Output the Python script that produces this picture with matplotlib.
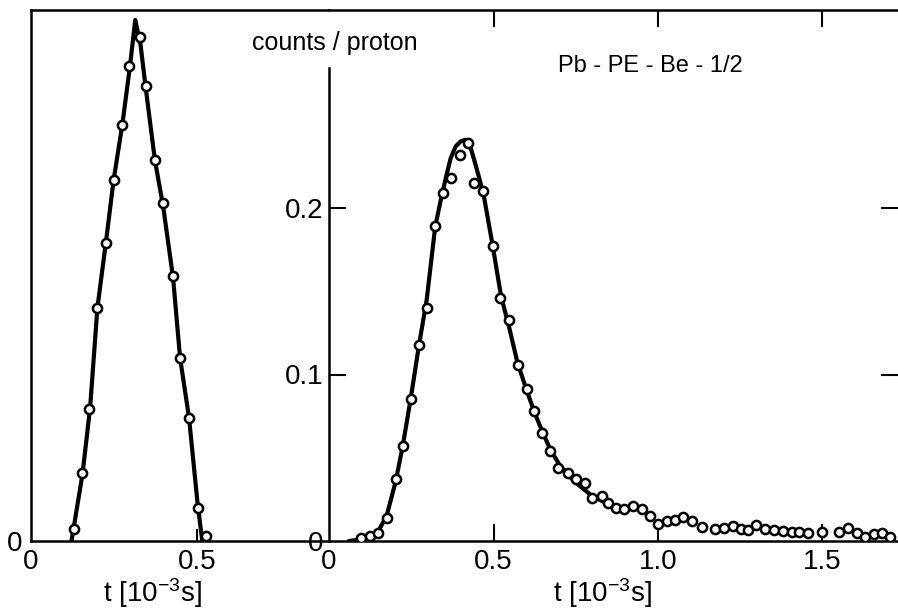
import matplotlib
matplotlib.use('Agg')
import matplotlib.pyplot as plt

plt.rcParams['font.family'] = ['Liberation Sans', 'DejaVu Sans']
plt.rcParams['mathtext.fontset'] = 'custom'
plt.rcParams['mathtext.rm'] = 'Liberation Sans'
plt.rcParams['mathtext.it'] = 'Liberation Sans'

# left panel: measured points and fitted curve
left_t = [0.130, 0.155, 0.176, 0.200, 0.226, 0.249, 0.275, 0.296, 0.328,
          0.345, 0.373, 0.398, 0.428, 0.449, 0.476, 0.502, 0.526]
left_counts = [0.007, 0.041, 0.079, 0.140, 0.179, 0.217, 0.250, 0.285, 0.303,
               0.273, 0.229, 0.203, 0.159, 0.110, 0.074, 0.020, 0.003]
left_fit_t = [0.122, 0.155, 0.178, 0.200, 0.226, 0.249, 0.275, 0.298, 0.314,
              0.330, 0.345, 0.373, 0.398, 0.428, 0.449, 0.476, 0.502, 0.516]
left_fit = [0.0, 0.040, 0.080, 0.140, 0.180, 0.217, 0.250, 0.285, 0.313,
            0.298, 0.273, 0.229, 0.201, 0.158, 0.110, 0.074, 0.022, 0.0]

# right panel: Pb-PE-Be-1/2
right_t = [0.096, 0.125, 0.150, 0.175, 0.203, 0.224, 0.248, 0.273, 0.297, 0.321,
           0.345, 0.370, 0.398, 0.423, 0.442, 0.469, 0.497, 0.521, 0.548, 0.573,
           0.601, 0.624, 0.648, 0.672, 0.695, 0.725, 0.750, 0.779, 0.800, 0.829,
           0.847, 0.873, 0.898, 0.923, 0.951, 0.976, 1.001, 1.027, 1.052, 1.077,
           1.104, 1.133, 1.173, 1.201, 1.228, 1.252, 1.274, 1.298, 1.325, 1.353,
           1.381, 1.406, 1.430, 1.455, 1.498, 1.550, 1.577, 1.604, 1.629, 1.657,
           1.680, 1.705]
right_counts = [0.002, 0.003, 0.005, 0.014, 0.037, 0.057, 0.085, 0.118, 0.140, 0.189,
                0.209, 0.218, 0.232, 0.239, 0.215, 0.210, 0.177, 0.146, 0.133, 0.106,
                0.091, 0.078, 0.065, 0.054, 0.044, 0.041, 0.037, 0.035, 0.026, 0.027,
                0.023, 0.020, 0.019, 0.021, 0.019, 0.015, 0.010, 0.012, 0.0126, 0.0144,
                0.012, 0.0084, 0.0075, 0.0080, 0.0088, 0.0075, 0.0066, 0.0096, 0.0070, 0.0066,
                0.0062, 0.0056, 0.0056, 0.0050, 0.0056, 0.0056, 0.0076, 0.0050, 0.0026, 0.0042,
                0.0050, 0.0026]
right_fit_t = [0.060, 0.100, 0.130, 0.150, 0.175, 0.203, 0.224, 0.248, 0.273, 0.297,
               0.323, 0.340, 0.355, 0.370, 0.385, 0.400, 0.415, 0.428, 0.444, 0.469,
               0.497, 0.523, 0.548, 0.573, 0.600, 0.625, 0.650, 0.675, 0.700, 0.725,
               0.750, 0.775, 0.800, 0.850, 0.905]
right_fit = [0.0, 0.001, 0.003, 0.006, 0.015, 0.036, 0.057, 0.085, 0.117, 0.145,
             0.189, 0.205, 0.218, 0.230, 0.237, 0.240, 0.241, 0.238, 0.227, 0.209,
             0.178, 0.147, 0.128, 0.107, 0.091, 0.077, 0.065, 0.054, 0.046, 0.040,
             0.035, 0.031, 0.027, 0.022, 0.018]

W, H = 898, 614
fig = plt.figure(figsize=(W / 100, H / 100), dpi=100)
fig.patch.set_facecolor('white')

x0, x_split, y_bot, y_top = 31, 329, 541, 10
ax1 = fig.add_axes([x0 / W, (H - y_bot) / H, (x_split - x0) / W, (y_bot - y_top) / H])
ax2 = fig.add_axes([x_split / W, (H - y_bot) / H, (W - x_split) / W, (y_bot - y_top) / H])

ymax = (y_bot - y_top) / 1665.0
line_kw = dict(color='black', lw=3.0, solid_joinstyle='round', solid_capstyle='round', zorder=2)
mark_kw = dict(ls='none', marker='o', ms=6.6, mfc='white', mec='black', mew=1.8, zorder=3)

# left panel
ax1.plot(left_fit_t, left_fit, **line_kw)
ax1.plot(left_t, left_counts, **mark_kw)
ax1.set_xlim(0, (x_split - x0) / 332.0)
ax1.set_ylim(0, ymax)
ax1.spines['right'].set_visible(False)
for s in ['left', 'top', 'bottom']:
    ax1.spines[s].set_linewidth(1.8)
ax1.set_xticks([0, 0.5])
ax1.set_xticklabels(['0', '0.5'])
ax1.set_yticks([0])
ax1.set_yticklabels(['0'])
ax1.tick_params(axis='x', direction='in', length=9, width=1.5, pad=6, labelsize=20)
ax1.tick_params(axis='y', length=0, pad=6, labelsize=20)

# right panel
ax2.plot(right_fit_t, right_fit, **line_kw)
ax2.plot(right_t, right_counts, **mark_kw)
ax2.set_xlim(0, (W - x_split) / 329.0)
ax2.set_ylim(0, ymax)
ax2.spines['right'].set_visible(False)
ax2.spines['left'].set_bounds(0, 0.284)
for s in ['left', 'top', 'bottom']:
    ax2.spines[s].set_linewidth(1.8)
ax2.set_xticks([0, 0.5, 1.0, 1.5])
ax2.set_xticklabels(['0', '0.5', '1.0', '1.5'])
ax2.set_yticks([0, 0.1, 0.2])
ax2.set_yticklabels(['0', '0.1', '0.2'])
ax2.tick_params(axis='x', direction='in', top=True, length=12, width=1.5, pad=6, labelsize=20)
ax2.tick_params(axis='y', direction='in', right=True, length=12, width=1.5, pad=4, labelsize=20)

# no tick marks at the origin, only its labels
for t in [ax1.xaxis.get_major_ticks()[0], ax2.xaxis.get_major_ticks()[0],
          ax2.yaxis.get_major_ticks()[0]]:
    t.tick1line.set_visible(False)
    t.tick2line.set_visible(False)

# labels
fig.text(152 / W, 12 / H, 't [10$^{-3}$s]', ha='center', va='baseline', fontsize=20)
fig.text(602 / W, 12 / H, 't [10$^{-3}$s]', ha='center', va='baseline', fontsize=20)
fig.text(335 / W, (H - 50) / H, 'counts / proton', ha='center', va='baseline', fontsize=18)
fig.text(650 / W, (H - 72) / H, 'Pb - PE - Be - 1/2', ha='center', va='baseline', fontsize=17)

fig.savefig('out.png', dpi=100)
